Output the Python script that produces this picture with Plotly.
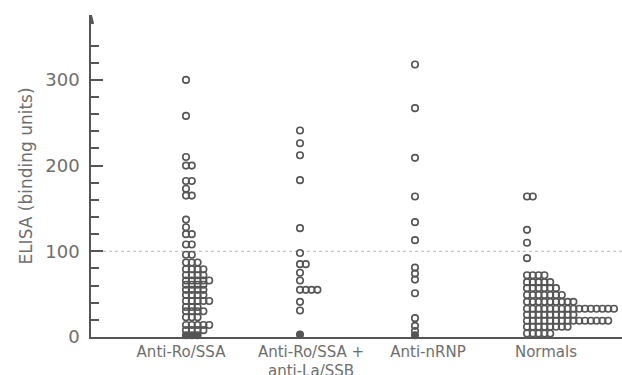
import plotly.graph_objects as go

# ---------------- data ----------------
categories = ["Anti-Ro/SSA", "Anti-Ro/SSA +<br>anti-La/SSB", "Anti-nRNP", "Normals"]

ro_ssa = [300, 258, 210, 200, 200, 182, 182, 173, 165, 165,
          137, 128, 120, 120, 108, 108, 96, 96, 87, 87, 87,
          79, 79, 79, 79,
          72, 72, 72, 72,
          66, 66, 66, 66, 66,
          61, 61, 61, 61,
          55, 55, 55, 55,
          49, 49, 49, 49,
          42, 42, 42, 42, 42,
          35, 35, 35,
          30, 30, 30, 30,
          23, 23, 23,
          14, 14, 14, 14, 14,
          8, 8, 8, 8,
          2, 2, 2]

ro_la = [241, 226, 212, 183, 127, 98, 85, 85, 75, 66,
         55, 55, 55, 55, 41, 31, 3]

nrnp = [318, 267, 209, 164, 134, 113, 81, 74, 67, 51, 22, 13, 7, 2]

normals = [164, 164, 125, 110, 92,
           72, 72, 72, 72,
           64, 64, 64, 64, 64,
           57, 57, 57, 57, 57, 57,
           49, 49, 49, 49, 49, 49, 49,
           41, 41, 41, 41, 41, 41, 41, 41, 41,
           33, 33, 33, 33, 33, 33, 33, 33, 33, 33, 33, 33, 33, 33, 33, 33,
           26, 26, 26, 26, 26, 26, 26, 26, 26,
           19, 19, 19, 19, 19, 19, 19, 19, 19, 19, 19, 19, 19, 19, 19,
           12, 12, 12, 12, 12, 12, 12, 12,
           4, 4, 4, 4, 4]

groups = [ro_ssa, ro_la, nrnp, normals]

y_ticks = [0, 100, 200, 300]
y_minor_ticks = [20, 40, 60, 80, 120, 140, 160, 180, 220, 240, 260, 280, 320, 340]

# ---------------- style ----------------
label_pos = [90, 220, 337, 455]      # category label centres (x units = px)
column_pos = [95, 209, 324, 436]     # left dot column of each category
dot_step = 5.8
ink = "#555555"
text_col = "#6e6e6e"
font_family = "DejaVu Sans"
y_top = 375.7

fig = go.Figure()

for vals, col in zip(groups, column_pos):
    seen = {}
    xs, ys, syms = [], [], []
    for v in vals:
        k = seen.get(v, 0)
        seen[v] = k + 1
        xs.append(col + k * dot_step)
        ys.append(v)
        syms.append("circle" if v <= 3 else "circle-open")
    fig.add_trace(go.Scatter(
        x=xs, y=ys, mode="markers",
        marker=dict(symbol=syms, size=6.5, color=ink,
                    line=dict(color=ink, width=1.6)),
        cliponaxis=False, showlegend=False, hoverinfo="y"))

# dotted reference line at 100
fig.add_shape(type="line", xref="x", yref="y", x0=0, x1=531, y0=100, y1=100,
              line=dict(color="#b5b5b5", width=1, dash="dot"), layer="below")

# arrow head at top of the y axis
fig.add_shape(type="path", xref="x", yref="y",
              path=f"M -2.6,{y_top - 10} L 2.6,{y_top - 10} L 0,{y_top + 2} Z",
              fillcolor=ink, line=dict(color=ink, width=1))

fig.update_layout(
    width=622, height=375,
    margin=dict(l=91, r=0, t=15, b=38, autoexpand=False),
    paper_bgcolor="white", plot_bgcolor="white",
    font=dict(family=font_family, color=text_col),
    xaxis=dict(range=[0, 531], tickvals=label_pos, ticktext=categories,
               showline=True, linecolor=ink, linewidth=1.5, ticks="",
               showgrid=False, zeroline=False, automargin=False,
               tickfont=dict(size=15, color=text_col)),
    yaxis=dict(range=[0, y_top], tickvals=y_ticks, ticks="inside", ticklen=12,
               tickwidth=1.5, tickcolor=ink, showline=True, linecolor=ink,
               linewidth=1.5, showgrid=False, zeroline=False, automargin=False,
               ticklabelstandoff=6,
               tickfont=dict(size=18, color=text_col),
               minor=dict(tickvals=y_minor_ticks, ticks="inside", ticklen=8,
                          tickwidth=1.5, tickcolor=ink),
               title=dict(text="ELISA (binding units)", standoff=8,
                          font=dict(size=17, color=text_col))),
)

fig.write_html("out.html", config={"displayModeBar": False},
               post_script="document.body.style.margin='0';document.body.style.overflow='hidden';")
